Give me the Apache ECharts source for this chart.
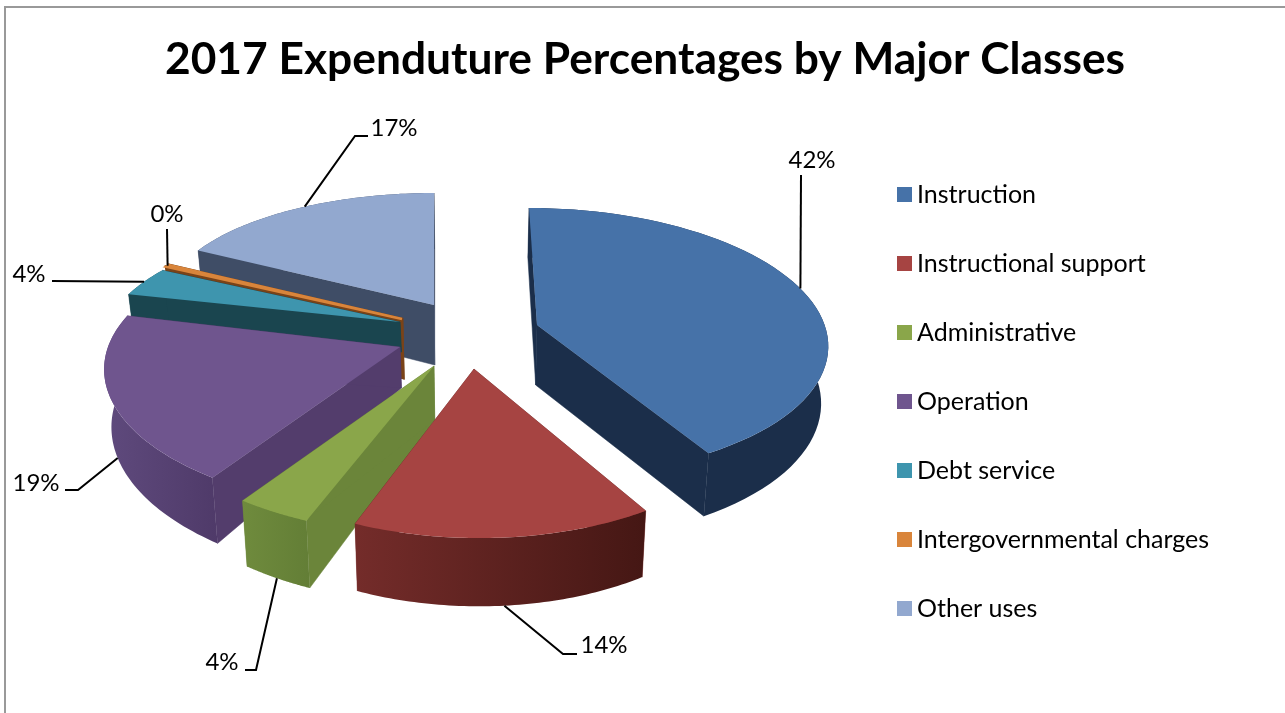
<!DOCTYPE html>
<html><head><meta charset="utf-8">
<style>html,body{margin:0;padding:0;background:#fff}#c{width:1285px;height:713px}</style>
<script src="https://cdn.jsdelivr.net/npm/echarts@6/dist/echarts.min.js"></script>
</head><body><div id="c"></div>
<script>
const chartTitle = '2017 Expenduture Percentages by Major Classes';
const categories = ['Instruction','Instructional support','Administrative','Operation','Debt service','Intergovernmental charges','Other uses'];
const seriesValues = [41.6, 14.4, 3.5, 19.4, 3.9, 0.3, 16.9];

// colours
const topColors = ['#4672a8','#a64442','#8aa64a','#6f558e','#3e95ae','#d9853b','#92a8cf'];
const rimColors = [['#1b2e4a','#1b2e4a'],['#742c2a','#451714'],['#6f8b3d','#637e36'],['#5f4a7d','#4f3a69'],['#1a454f','#1a454f'],['#7a4318','#7a4318'],['#3f4d66','#3f4d66']];
const edgeColors = ['#1b2e4a','#742c2a','#6b853a','#533d6c','#1a454f','#7a4318','#3f4d66'];

// projection of the tilted pie
const radiusX = 292, radiusY = 138.6, thickness = 56, vanishX = 470, converge = 0.02;
// per-slice explosion (pixel position of the slice tip) and perspective corrections
const tips = [[537,325],[474,369],[434,366],[400,347],[400,322],[402,319],[434,305]];
const tilts = [0.128,0.18,0.18,0.18,0.18,0.18,0];
const skews = [0.068,0.032,0.01,0.04,0,-0.03,0];
const xScales = [0.985,0.96,1,1,1,1,0.925];
const yScales = [0.952,1,1,0.97,0.86,0.87,0.808];
const tipDepths = [60,57,54,41,30,59,60];
// data-label layout
const labelPos = [[812,160],[604,645],[222,662],[36,483],[29,274],[167,214],[394,128]];
const elbows = [[[801,175]],[[563,654],[577,654]],[[256,670],[245,670]],[[78,490],[65,490]],[[52,281]],[[167,229]],[[355,136],[368,136]]];
const useBottom = [false,true,true,true,false,false,false];
const leaderAt = [0.49,0.5,0.5,0.5,0.5,0.5,0.53];

const total = seriesValues.reduce((a,b)=>a+b,0);
const starts = []; seriesValues.reduce((a,v,i)=>(starts[i]=a,a+v),0);

function rim(i, theta){
  const X = Math.sin(theta), Y = -Math.cos(theta), s = 1/(1 - tilts[i]*Y);
  const dy = radiusY*Y*s*yScales[i];
  return {x: tips[i][0] + radiusX*X*s*xScales[i] + skews[i]*dy, y: tips[i][1] + dy, s};
}
function lowered(p){ return [p.x + (vanishX-p.x)*converge, p.y + thickness*p.s]; }

function drawSlice(i){
  return function(params, api){
    const value = api.value(0);
    const a0 = starts[i]/total*2*Math.PI, a1 = (starts[i]+value)/total*2*Math.PI;
    const steps = 60, pts = [];
    for(let k=0;k<=steps;k++) pts.push(rim(i, a0+(a1-a0)*k/steps));
    const tip = tips[i], tipLow = [tip[0]+(vanishX-tip[0])*converge, tip[1]+tipDepths[i]];
    const top = [tip].concat(pts.map(p=>[p.x,p.y]));
    const low = pts.map(lowered);
    const first = pts[0], last = pts[steps];
    const thin = value < 1;
    const children = [];
    const edge = (p,q)=>({type:'polygon',shape:{points:[tip,[p.x,p.y],q,tipLow]},
      style:{fill:edgeColors[i],stroke:edgeColors[i],lineWidth:thin?2.5:0.5}});
    children.push(edge(first,low[0]));
    children.push(edge(last,low[steps]));
    children.push({type:'polygon',shape:{points:pts.map(p=>[p.x,p.y]).concat(low.slice().reverse())},
      style:{fill:new echarts.graphic.LinearGradient(0,0,1,0,[{offset:0,color:rimColors[i][0]},{offset:1,color:rimColors[i][1]}])}});
    children.push({type:'polygon',shape:{points:top},style:{fill:topColors[i],stroke:thin?topColors[i]:null,lineWidth:thin?2.5:0}});
    // leader line + data label
    const mid = rim(i,a0+(a1-a0)*leaderAt[i]);
    const from = useBottom[i] ? lowered(mid) : [mid.x,mid.y];
    children.push({type:'polyline',shape:{points:[from].concat(elbows[i])},style:{fill:null,stroke:'#000',lineWidth:2}});
    children.push({type:'text',style:{text:Math.round(value)+'%',x:labelPos[i][0],y:labelPos[i][1],align:'center',verticalAlign:'middle',
      fill:'#000',font:'24px Lato, sans-serif'}});
    return {type:'group',children};
  };
}

const chart = echarts.init(document.getElementById('c'),null,{renderer:'canvas'});
chart.setOption({
  animation:false,
  backgroundColor:'#fff',
  title:{text:chartTitle,left:640,top:33,textAlign:'center',
    textStyle:{fontFamily:'Lato, sans-serif',fontWeight:'bold',fontSize:44.3,color:'#000'}},
  legend:{orient:'vertical',left:892,top:177,itemWidth:15,itemHeight:15,itemGap:44,selectedMode:false,
    data:categories,icon:'rect',textStyle:{fontFamily:'Lato, sans-serif',fontSize:25,color:'#000'}},
  graphic:[{type:'polyline',silent:true,shape:{points:[[5,713],[5,7],[1285,7]]},style:{fill:null,stroke:'#999',lineWidth:2}}],
  series:categories.map((name,i)=>({
    type:'custom',name,coordinateSystem:'none',z:10-i,
    itemStyle:{color:topColors[i]},
    data:[[seriesValues[i]]],
    renderItem:drawSlice(i)
  }))
});
</script></body></html>
